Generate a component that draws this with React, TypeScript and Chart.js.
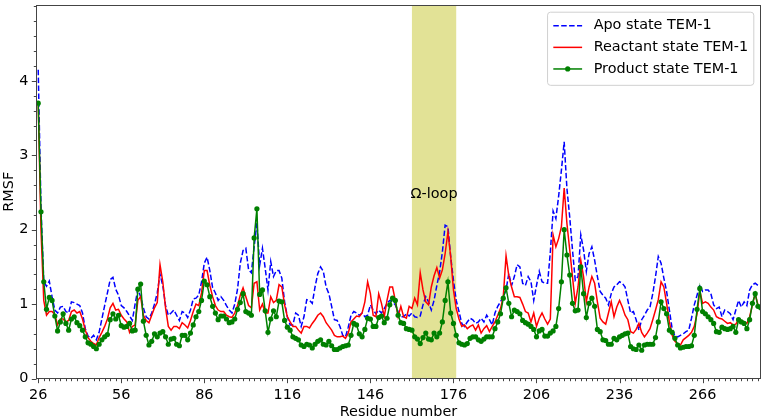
import React, { useEffect, useRef } from "react";
import { Chart, registerables } from "chart.js";

Chart.register(...registerables);

// ---------------- data ----------------
const RESIDUE_FIRST = 26;

// Apo state TEM-1 (residues 26..287)
const APO_RMSF = [
  4.15, 2.30, 1.30, 1.24, 1.31, 1.10, 0.92, 0.88, 0.96, 0.97,
  0.90, 0.88, 1.03, 1.02, 1.00, 0.98, 0.88, 0.67, 0.57, 0.54,
  0.58, 0.52, 0.62, 0.80, 0.98, 1.15, 1.33, 1.36, 1.20, 1.12,
  0.98, 0.95, 0.90, 0.84, 0.78, 1.00, 1.20, 1.10, 0.95, 0.83,
  0.80, 0.88, 1.00, 1.15, 1.40, 1.25, 0.98, 0.85, 0.88, 0.92,
  0.85, 0.78, 0.90, 0.88, 0.82, 0.92, 1.07, 1.08, 1.12, 1.30,
  1.55, 1.63, 1.45, 1.22, 1.15, 1.05, 1.10, 1.05, 0.98, 0.92,
  0.88, 1.00, 1.20, 1.55, 1.72, 1.75, 1.46, 1.42, 1.77, 2.09,
  1.52, 1.75, 1.48, 1.19, 1.57, 1.37, 1.45, 1.45, 1.35, 1.03,
  0.83, 0.72, 0.72, 0.88, 0.85, 0.70, 0.83, 1.06, 1.05, 1.01,
  1.23, 1.41, 1.50, 1.44, 1.23, 1.14, 0.97, 0.79, 0.78, 0.70,
  0.58, 0.56, 0.69, 0.85, 0.90, 0.88, 0.85, 0.88, 0.83, 0.85,
  0.99, 0.92, 0.87, 0.92, 0.88, 0.94, 1.01, 1.05, 1.03, 0.99,
  0.90, 0.83, 0.83, 0.87, 0.84, 0.88, 0.83, 0.82, 0.84, 0.99,
  1.10, 1.03, 0.92, 1.05, 1.25, 1.43, 1.70, 2.06, 2.04, 1.64,
  1.32, 1.05, 0.90, 0.74, 0.70, 0.76, 0.81, 0.79, 0.74, 0.76,
  0.81, 0.76, 0.85, 0.79, 0.72, 0.88, 0.97, 1.03, 1.10, 1.19,
  1.41, 1.25, 1.37, 1.53, 1.50, 1.28, 1.25, 1.37, 1.30, 1.05,
  1.25, 1.44, 1.30, 1.28, 1.28, 1.70, 2.25, 2.15, 2.45, 2.80,
  3.18, 2.55, 2.17, 1.73, 1.32, 1.37, 1.93, 1.73, 1.44, 1.68,
  1.77, 1.59, 1.37, 1.17, 1.12, 1.08, 0.99, 1.14, 1.23, 1.26,
  1.30, 1.28, 1.23, 1.05, 0.88, 0.90, 0.79, 0.65, 0.79, 0.85,
  0.92, 0.96, 1.14, 1.37, 1.64, 1.55, 1.35, 1.17, 0.92, 0.67,
  0.57, 0.56, 0.58, 0.60, 0.63, 0.65, 0.81, 0.99, 1.12, 1.26,
  1.17, 1.19, 1.19, 1.14, 0.99, 0.94, 0.96, 0.83, 0.92, 0.90,
  0.87, 0.79, 0.92, 1.05, 0.96, 1.03, 0.98, 1.19, 1.26, 1.28,
  1.25, 1.24,
];

// Reactant state TEM-1
const REACTANT_RMSF = [
  3.70, 2.00, 1.05, 0.85, 0.90, 0.90, 0.86, 0.72, 0.80, 0.80,
  0.76, 0.78, 0.90, 0.92, 0.88, 0.90, 0.80, 0.65, 0.55, 0.50,
  0.47, 0.45, 0.55, 0.62, 0.70, 0.80, 0.95, 1.01, 0.92, 0.93,
  0.85, 0.80, 0.76, 0.62, 0.70, 0.72, 1.05, 1.10, 0.85, 0.78,
  0.75, 0.85, 0.95, 1.02, 1.53, 1.30, 0.95, 0.70, 0.65, 0.70,
  0.70, 0.67, 0.75, 0.72, 0.68, 0.78, 0.90, 1.00, 0.98, 1.15,
  1.45, 1.45, 1.25, 1.10, 0.98, 0.92, 0.90, 0.90, 0.85, 0.83,
  0.82, 0.88, 0.98, 1.12, 1.22, 1.10, 0.98, 0.95, 1.28, 1.30,
  0.92, 1.00, 0.88, 0.88, 1.10, 1.02, 1.05, 1.26, 1.23, 0.99,
  0.83, 0.76, 0.70, 0.70, 0.65, 0.61, 0.70, 0.70, 0.68, 0.74,
  0.79, 0.85, 0.88, 0.83, 0.75, 0.70, 0.65, 0.58, 0.56, 0.56,
  0.57, 0.54, 0.61, 0.76, 0.80, 0.84, 0.83, 0.88, 1.03, 1.30,
  1.14, 0.85, 0.83, 1.14, 1.01, 0.83, 1.05, 1.23, 1.23, 1.05,
  0.83, 0.97, 0.83, 0.81, 0.97, 0.94, 1.08, 0.99, 1.42, 1.19,
  1.03, 0.99, 1.23, 1.38, 1.49, 1.35, 1.46, 1.68, 1.97, 1.64,
  1.19, 0.94, 0.80, 0.70, 0.72, 0.67, 0.70, 0.72, 0.65, 0.72,
  0.61, 0.67, 0.71, 0.63, 0.70, 0.76, 0.85, 0.94, 1.10, 1.65,
  1.38, 1.23, 1.10, 1.10, 1.09, 1.00, 0.90, 0.88, 0.76, 0.88,
  0.70, 0.81, 0.88, 0.80, 0.73, 0.80, 1.93, 1.77, 1.88, 2.04,
  2.56, 2.08, 1.73, 1.37, 1.01, 1.23, 1.59, 1.37, 1.03, 1.23,
  1.37, 1.28, 1.03, 0.81, 0.76, 0.73, 0.88, 1.03, 0.83, 0.96,
  1.05, 0.96, 0.85, 0.79, 0.63, 0.61, 0.66, 0.74, 0.62, 0.56,
  0.61, 0.67, 0.79, 0.92, 1.06, 1.30, 1.23, 1.01, 0.76, 0.58,
  0.50, 0.47, 0.45, 0.52, 0.55, 0.58, 0.62, 0.70, 0.87, 1.18,
  1.01, 1.03, 1.01, 0.96, 0.92, 0.83, 0.81, 0.80, 0.77, 0.74,
  0.75, 0.72, 0.73, 0.79, 0.78, 0.76, 0.74, 0.83, 0.99, 1.14,
  0.99, 0.97,
];

// Product state TEM-1
const PRODUCT_RMSF = [
  3.70, 2.24, 1.30, 0.93, 1.09, 1.05, 0.84, 0.64, 0.76, 0.87,
  0.74, 0.65, 0.80, 0.83, 0.75, 0.71, 0.65, 0.56, 0.48, 0.46,
  0.43, 0.40, 0.46, 0.52, 0.56, 0.59, 0.79, 0.87, 0.80, 0.85,
  0.71, 0.69, 0.70, 0.74, 0.64, 0.65, 1.20, 1.27, 0.77, 0.58,
  0.45, 0.50, 0.60, 0.56, 0.61, 0.63, 0.56, 0.46, 0.53, 0.54,
  0.46, 0.44, 0.58, 0.58, 0.52, 0.61, 0.72, 0.83, 0.90, 1.05,
  1.31, 1.26, 1.10, 0.97, 0.88, 0.79, 0.84, 0.84, 0.80, 0.75,
  0.76, 0.80, 0.93, 1.02, 1.14, 0.90, 0.88, 0.85, 1.89, 2.28,
  1.13, 1.19, 0.91, 0.62, 0.80, 0.91, 0.83, 1.04, 1.03, 0.78,
  0.69, 0.65, 0.56, 0.54, 0.52, 0.45, 0.43, 0.46, 0.45, 0.41,
  0.46, 0.50, 0.52, 0.46, 0.45, 0.50, 0.44, 0.39, 0.39, 0.41,
  0.43, 0.44, 0.45, 0.58, 0.74, 0.72, 0.60, 0.56, 0.66, 0.81,
  0.80, 0.70, 0.70, 0.82, 0.84, 0.75, 0.81, 0.99, 1.08, 1.05,
  0.85, 0.75, 0.74, 0.67, 0.66, 0.65, 0.56, 0.53, 0.47, 0.55,
  0.61, 0.53, 0.52, 0.61, 0.56, 0.61, 0.76, 1.05, 1.30, 0.88,
  0.74, 0.58, 0.48, 0.46, 0.45, 0.47, 0.54, 0.56, 0.56, 0.52,
  0.50, 0.53, 0.56, 0.56, 0.56, 0.67, 0.76, 0.87, 1.08, 1.22,
  1.01, 0.83, 0.92, 0.90, 0.87, 0.78, 0.75, 0.73, 0.70, 0.66,
  0.56, 0.64, 0.66, 0.57, 0.57, 0.61, 0.64, 0.70, 0.94, 1.30,
  2.00, 1.66, 1.39, 1.01, 0.91, 0.92, 1.50, 1.14, 0.82, 1.01,
  1.08, 0.97, 0.66, 0.63, 0.52, 0.51, 0.46, 0.46, 0.54, 0.52,
  0.56, 0.58, 0.60, 0.61, 0.43, 0.40, 0.39, 0.45, 0.38, 0.45,
  0.46, 0.46, 0.46, 0.55, 0.76, 1.03, 0.94, 0.87, 0.65, 0.62,
  0.54, 0.45, 0.41, 0.42, 0.43, 0.43, 0.44, 0.58, 0.93, 1.21,
  0.90, 0.87, 0.83, 0.79, 0.74, 0.63, 0.62, 0.69, 0.67, 0.66,
  0.67, 0.70, 0.62, 0.79, 0.76, 0.74, 0.67, 0.79, 1.01, 1.14,
  0.97, 0.95,
];

const RESIDUES = APO_RMSF.map((_, i) => RESIDUE_FIRST + i);

const SERIES_NAMES = ["Apo state TEM-1", "Reactant state TEM-1", "Product state TEM-1"];
const X_TICKS = [26, 56, 86, 116, 146, 176, 206, 236, 266];
const Y_TICKS = [0, 1, 2, 3, 4];
const X_MINOR_STEP = 2;
const Y_MINOR_STEP = 0.2;
const X_RANGE = [25.2, 287.1];
const Y_RANGE = [0, 5.02];
const OMEGA_LOOP_RANGE = [161, 177];
const OMEGA_LOOP_LABEL = "Ω-loop";
const OMEGA_LABEL_AT = [169, 2.43];
const X_TITLE = "Residue number";
const Y_TITLE = "RMSF";

// ---------------- style ----------------
const FONT = '"DejaVu Sans", sans-serif';
const FS = 14.4;
const BLUE = "#0000ff";
const RED = "#ff0000";
const GREEN = "#008000";
const SHADE = "rgb(226,226,150)";
const SPINE = "#444444";

const toXY = (vals: number[]) => vals.map((v, i) => ({ x: RESIDUES[i], y: v }));

const shadePlugin = {
  id: "omegaShade",
  beforeDatasetsDraw(chart: any) {
    const { ctx, chartArea: a, scales } = chart;
    const x0 = scales.x.getPixelForValue(OMEGA_LOOP_RANGE[0]);
    const x1 = scales.x.getPixelForValue(OMEGA_LOOP_RANGE[1]);
    ctx.save();
    ctx.fillStyle = SHADE;
    ctx.fillRect(x0, a.top, x1 - x0, a.bottom - a.top);
    ctx.restore();
  },
  afterDatasetsDraw(chart: any) {
    const { ctx, scales } = chart;
    ctx.save();
    ctx.font = `${FS}px ${FONT}`;
    ctx.fillStyle = "#000";
    ctx.textAlign = "center";
    ctx.textBaseline = "alphabetic";
    ctx.fillText(
      OMEGA_LOOP_LABEL,
      scales.x.getPixelForValue(OMEGA_LABEL_AT[0]),
      scales.y.getPixelForValue(OMEGA_LABEL_AT[1])
    );
    ctx.restore();
  },
};

const framePlugin = {
  id: "frameTicks",
  afterDatasetsDraw(chart: any) {
    const { ctx, chartArea: a, scales } = chart;
    const { x, y } = scales;
    const L = Math.round(a.left) + 0.5;
    const R = Math.round(a.right) - 0.5;
    const T = Math.round(a.top) + 0.5;
    const B = Math.floor(a.bottom) + 0.5;
    ctx.save();
    ctx.strokeStyle = SPINE;
    ctx.lineWidth = 1;
    ctx.strokeRect(L, T, R - L, B - T);
    ctx.beginPath();
    for (let v = X_TICKS[0]; v <= X_RANGE[1]; v += X_MINOR_STEP) {
      const major = X_TICKS.includes(v);
      const px = Math.round(x.getPixelForValue(v)) + 0.5;
      ctx.moveTo(px, B);
      ctx.lineTo(px, B + (major ? 4.7 : 2.7));
    }
    for (let k = 0; k * Y_MINOR_STEP <= Y_RANGE[1]; k++) {
      const v = k * Y_MINOR_STEP;
      const major = Y_TICKS.some((t) => Math.abs(t - v) < 1e-6);
      const py = Math.round(y.getPixelForValue(v)) + 0.5;
      ctx.moveTo(L, py);
      ctx.lineTo(L - (major ? 4.7 : 2.7), py);
    }
    ctx.stroke();
    ctx.restore();
  },
};

const legendPlugin = {
  id: "boxLegend",
  afterDraw(chart: any) {
    const { ctx, chartArea: a } = chart;
    ctx.save();
    ctx.font = `${FS}px ${FONT}`;
    const widths = SERIES_NAMES.map((s) => ctx.measureText(s).width);
    const pad = 0.4 * FS;
    const handle = 2.0 * FS;
    const gap = 0.8 * FS;
    const rowH = 1.5 * FS;
    const w = pad * 2 + handle + gap + Math.max(...widths);
    const h = pad * 2 + rowH * 3 - 0.5 * FS + 4;
    const right = a.right - 0.5 * FS;
    const top = a.top + 0.5 * FS;
    const left = right - w;
    const r = 3;
    ctx.beginPath();
    ctx.moveTo(left + r, top);
    ctx.lineTo(left + w - r, top);
    ctx.arcTo(left + w, top, left + w, top + r, r);
    ctx.lineTo(left + w, top + h - r);
    ctx.arcTo(left + w, top + h, left + w - r, top + h, r);
    ctx.lineTo(left + r, top + h);
    ctx.arcTo(left, top + h, left, top + h - r, r);
    ctx.lineTo(left, top + r);
    ctx.arcTo(left, top, left + r, top, r);
    ctx.closePath();
    ctx.fillStyle = "rgba(255,255,255,0.8)";
    ctx.fill();
    ctx.strokeStyle = "#d0d0d0";
    ctx.lineWidth = 1;
    ctx.stroke();

    const colors = [BLUE, RED, GREEN];
    SERIES_NAMES.forEach((name, i) => {
      const cy = top + pad + 7.8 + i * rowH;
      const hx0 = left + pad;
      const hx1 = hx0 + handle;
      ctx.strokeStyle = colors[i];
      ctx.lineWidth = 1.5;
      ctx.setLineDash(i === 0 ? [5.5, 2.4] : []);
      ctx.beginPath();
      ctx.moveTo(hx0, cy);
      ctx.lineTo(hx1, cy);
      ctx.stroke();
      ctx.setLineDash([]);
      if (i === 2) {
        ctx.fillStyle = GREEN;
        ctx.beginPath();
        ctx.arc((hx0 + hx1) / 2, cy, 2.6, 0, Math.PI * 2);
        ctx.fill();
      }
      ctx.fillStyle = "#000";
      ctx.textAlign = "left";
      ctx.textBaseline = "middle";
      ctx.fillText(name, hx1 + gap, cy);
    });
    ctx.restore();
  },
};

export default function App() {
  const canvasRef = useRef<HTMLCanvasElement | null>(null);

  useEffect(() => {
    if (!canvasRef.current) return;
    Chart.defaults.font.family = FONT;
    Chart.defaults.font.size = FS;
    Chart.defaults.color = "#000";

    const chart = new Chart(canvasRef.current, {
      type: "line",
      data: {
        datasets: [
          {
            label: SERIES_NAMES[0],
            data: toXY(APO_RMSF),
            borderColor: BLUE,
            borderWidth: 1.5,
            borderDash: [5.5, 2.4],
            pointRadius: 0,
            fill: false,
            tension: 0,
            order: 2,
          },
          {
            label: SERIES_NAMES[1],
            data: toXY(REACTANT_RMSF),
            borderColor: RED,
            borderWidth: 1.5,
            pointRadius: 0,
            fill: false,
            tension: 0,
            order: 1,
          },
          {
            label: SERIES_NAMES[2],
            data: toXY(PRODUCT_RMSF),
            borderColor: GREEN,
            borderWidth: 1.5,
            pointRadius: 2.6,
            pointBackgroundColor: GREEN,
            pointBorderWidth: 0,
            fill: false,
            tension: 0,
            order: 0,
          },
        ],
      },
      plugins: [shadePlugin, framePlugin, legendPlugin],
      options: {
        responsive: false,
        animation: false,
        devicePixelRatio: 1,
        layout: { padding: { top: 5, right: 6, left: 0, bottom: 0 } },
        plugins: { legend: { display: false }, tooltip: { enabled: false } },
        scales: {
          x: {
            type: "linear",
            min: X_RANGE[0],
            max: X_RANGE[1],
            grid: { display: false, drawTicks: false },
            border: { display: false },
            ticks: { autoSkip: false, maxRotation: 0, padding: 8, font: { size: FS, family: FONT } },
            afterBuildTicks: (s: any) => {
              s.ticks = X_TICKS.map((v) => ({ value: v }));
            },
            afterFit: (s: any) => {
              s.height = 41.5;
              s.paddingLeft = 0;
              s.paddingRight = 0;
              s.paddingTop = 0;
              s.paddingBottom = 0;
            },
            title: {
              display: true,
              text: X_TITLE,
              font: { size: FS, family: FONT, lineHeight: 1.2 },
              padding: { top: 0, bottom: -1 },
            },
          },
          y: {
            type: "linear",
            min: Y_RANGE[0],
            max: Y_RANGE[1],
            grid: { display: false, drawTicks: false },
            border: { display: false },
            ticks: { padding: 7.5, font: { size: FS, family: FONT } },
            afterBuildTicks: (s: any) => {
              s.ticks = Y_TICKS.map((v) => ({ value: v }));
            },
            afterFit: (s: any) => {
              s.width = 36;
              s.paddingTop = 0;
              s.paddingBottom = 0;
              s.paddingLeft = 0;
              s.paddingRight = 0;
            },
            title: {
              display: true,
              text: Y_TITLE,
              font: { size: FS, family: FONT, lineHeight: 1.2 },
              padding: { top: 0.5, bottom: 0 },
            },
          },
        },
      },
    });
    return () => chart.destroy();
  }, []);

  return (
    <div style={{ position: "absolute", left: 0, top: 0, width: 767, height: 420, background: "#fff" }}>
      <canvas ref={canvasRef} width={767} height={420} style={{ width: 767, height: 420, display: "block" }} />
    </div>
  );
}
